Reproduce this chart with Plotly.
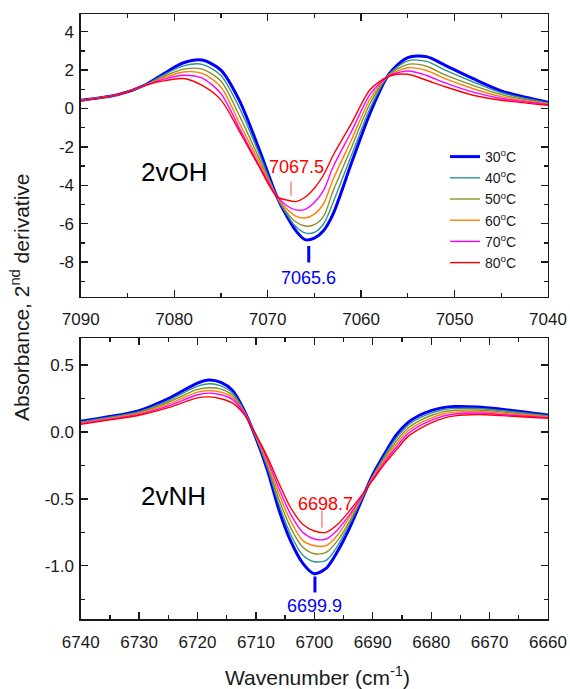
import plotly.graph_objects as go

# ---------------- data ----------------
temps = ["30", "40", "50", "60", "70", "80"]
colors = ["#0000FF", "#2E9494", "#8E8E24", "#FF8000", "#FF00FF", "#FF0000"]
widths = [3.0, 1.4, 1.4, 1.4, 1.4, 1.4]

# 2vOH region
wn_oh = [7090, 7086, 7083, 7081, 7079, 7077, 7075, 7073, 7071, 7069, 7068, 7067,
         7066, 7065, 7064, 7063, 7061, 7059, 7057, 7055, 7053, 7051, 7048, 7045, 7040]
oh_30 = [0.43, 0.72, 1.25, 1.85, 2.38, 2.52, 2.00, 0.40, -2.00, -4.60, -5.56, -6.35,
         -6.83, -6.75, -6.35, -5.50, -2.80, -0.20, 1.80, 2.65, 2.70, 2.25, 1.55, 0.92, 0.32]
oh_40 = [0.43, 0.72, 1.25, 1.78, 2.22, 2.30, 1.72, 0.02, -2.25, -4.62, -5.47, -6.15,
         -6.48, -6.45, -6.00, -4.90, -2.40, 0.05, 1.78, 2.48, 2.45, 2.00, 1.38, 0.82, 0.29]
oh_50 = [0.42, 0.72, 1.24, 1.70, 2.05, 2.05, 1.43, -0.40, -2.50, -4.60, -5.38, -5.90,
         -6.12, -6.05, -5.60, -4.30, -2.00, 0.30, 1.75, 2.30, 2.20, 1.75, 1.20, 0.72, 0.26]
oh_60 = [0.42, 0.72, 1.23, 1.62, 1.90, 1.83, 1.12, -0.78, -2.70, -4.60, -5.21, -5.60,
         -5.70, -5.50, -4.95, -3.70, -1.60, 0.52, 1.72, 2.12, 1.98, 1.55, 1.03, 0.62, 0.23]
oh_70 = [0.41, 0.72, 1.23, 1.54, 1.73, 1.58, 0.78, -1.05, -2.88, -4.58, -5.04, -5.28,
         -5.25, -4.90, -4.25, -3.05, -1.17, 0.76, 1.70, 1.95, 1.72, 1.33, 0.85, 0.52, 0.20]
oh_80 = [0.40, 0.72, 1.22, 1.45, 1.56, 1.20, 0.45, -1.20, -2.95, -4.60, -4.76, -4.85,
         -4.62, -4.15, -3.45, -2.45, -0.75, 1.00, 1.68, 1.78, 1.47, 1.13, 0.69, 0.43, 0.17]

# 2vNH region
wn_nh = [6740, 6735, 6730, 6725, 6720, 6718, 6716, 6714, 6712, 6710, 6708, 6706, 6704,
         6702, 6700, 6698, 6696, 6694, 6692, 6690, 6688, 6686, 6684, 6682, 6680, 6678,
         6676, 6672, 6668, 6664, 6660]
nh_30 = [0.080, 0.115, 0.160, 0.250, 0.365, 0.388, 0.370, 0.310, 0.160, -0.045, -0.29, -0.59, -0.82,
         -0.98, -1.06, -1.02, -0.89, -0.72, -0.52, -0.32, -0.165, -0.024, 0.070, 0.125, 0.160, 0.182,
         0.190, 0.186, 0.170, 0.150, 0.126]
nh_40 = [0.075, 0.110, 0.152, 0.235, 0.342, 0.360, 0.345, 0.292, 0.155, -0.040, -0.27, -0.55, -0.77,
         -0.92, -0.97, -0.96, -0.85, -0.69, -0.51, -0.33, -0.180, -0.047, 0.049, 0.105, 0.141, 0.166,
         0.176, 0.175, 0.160, 0.142, 0.121]
nh_50 = [0.070, 0.105, 0.145, 0.222, 0.318, 0.330, 0.320, 0.275, 0.150, -0.035, -0.25, -0.51, -0.72,
         -0.86, -0.91, -0.90, -0.81, -0.67, -0.50, -0.335, -0.195, -0.070, 0.028, 0.085, 0.123, 0.150,
         0.162, 0.164, 0.150, 0.134, 0.116]
nh_60 = [0.066, 0.100, 0.138, 0.208, 0.298, 0.310, 0.298, 0.258, 0.145, -0.030, -0.23, -0.47, -0.67,
         -0.81, -0.85, -0.85, -0.77, -0.64, -0.50, -0.34, -0.210, -0.092, 0.007, 0.065, 0.104, 0.134,
         0.148, 0.153, 0.141, 0.127, 0.112]
nh_70 = [0.062, 0.095, 0.131, 0.195, 0.278, 0.290, 0.278, 0.242, 0.140, -0.025, -0.21, -0.43, -0.62,
         -0.75, -0.80, -0.80, -0.73, -0.62, -0.49, -0.35, -0.225, -0.114, -0.014, 0.045, 0.086, 0.118,
         0.134, 0.142, 0.131, 0.119, 0.107]
nh_80 = [0.057, 0.090, 0.125, 0.182, 0.255, 0.262, 0.248, 0.215, 0.130, -0.020, -0.19, -0.39, -0.57,
         -0.69, -0.74, -0.75, -0.69, -0.59, -0.48, -0.36, -0.240, -0.136, -0.035, 0.023, 0.068, 0.102,
         0.120, 0.130, 0.122, 0.112, 0.102]

oh_series = [oh_30, oh_40, oh_50, oh_60, oh_70, oh_80]
nh_series = [nh_30, nh_40, nh_50, nh_60, nh_70, nh_80]

# tick labels (hyphen minus as in the reference)
oh_ytickvals = [4, 2, 0, -2, -4, -6, -8]
oh_yticktext = ["4", "2", "0", "-2", "-4", "-6", "-8"]
nh_ytickvals = [0.5, 0.0, -0.5, -1.0]
nh_yticktext = ["0.5", "0.0", "-0.5", "-1.0"]

oh_peak_30, oh_peak_80 = 7065.6, 7067.5
nh_peak_30, nh_peak_80 = 6699.9, 6698.7

FONT = "Liberation Sans, Arial, sans-serif"
INK = "#1a1a1a"
W, H = 570, 689

fig = go.Figure()
for i, t in enumerate(temps):
    fig.add_trace(go.Scatter(
        x=wn_oh, y=oh_series[i], mode="lines", name=f"{t}<sup>o</sup>C",
        line=dict(color=colors[i], width=widths[i], shape="spline", smoothing=0.8),
        xaxis="x", yaxis="y", showlegend=True))
for i, t in enumerate(temps):
    fig.add_trace(go.Scatter(
        x=wn_nh, y=nh_series[i], mode="lines", name=f"{t}<sup>o</sup>C",
        line=dict(color=colors[i], width=widths[i], shape="spline", smoothing=0.8),
        xaxis="x2", yaxis="y2", showlegend=False))

# peak marker lines
fig.add_trace(go.Scatter(x=[oh_peak_80, oh_peak_80], y=[-3.8, -4.55], mode="lines",
                         line=dict(color="#FF7070", width=1.3), xaxis="x", yaxis="y",
                         showlegend=False, hoverinfo="skip"))
fig.add_trace(go.Scatter(x=[oh_peak_30, oh_peak_30], y=[-7.16, -8.02], mode="lines",
                         line=dict(color="#0000FF", width=3), xaxis="x", yaxis="y",
                         showlegend=False, hoverinfo="skip"))
fig.add_trace(go.Scatter(x=[nh_peak_80, nh_peak_80], y=[-0.59, -0.715], mode="lines",
                         line=dict(color="#FF7070", width=1.3), xaxis="x2", yaxis="y2",
                         showlegend=False, hoverinfo="skip"))
fig.add_trace(go.Scatter(x=[nh_peak_30, nh_peak_30], y=[-1.08, -1.20], mode="lines",
                         line=dict(color="#0000FF", width=3), xaxis="x2", yaxis="y2",
                         showlegend=False, hoverinfo="skip"))

axis_common = dict(
    showline=True, linecolor=INK, linewidth=1.3, mirror="ticks",
    ticks="inside", ticklen=7, tickwidth=1.3, tickcolor=INK,
    showgrid=False, zeroline=False, automargin=False,
    tickfont=dict(family=FONT, size=17, color=INK),
)
minor_common = dict(ticks="inside", ticklen=4, tickwidth=1.3, tickcolor=INK, showgrid=False)

xd = [80.7 / W, 548 / W]
fig.update_layout(
    template="none",
    width=W, height=H,
    margin=dict(l=0, r=0, t=0, b=0, autoexpand=False),
    paper_bgcolor="white", plot_bgcolor="white",
    font=dict(family=FONT, color=INK),
    hovermode=False,
    xaxis=dict(domain=xd, range=[7090, 7040], dtick=10, tick0=7040, ticklabelstandoff=7,
               minor=dict(dtick=5, **minor_common), anchor="y", **axis_common),
    yaxis=dict(domain=[1 - 296.7 / H, 1 - 14 / H], range=[-9.8, 4.92], ticklabelstandoff=2,
               tickmode="array", tickvals=oh_ytickvals, ticktext=oh_yticktext,
               minor=dict(dtick=1, tick0=0, **minor_common), anchor="x", **axis_common),
    xaxis2=dict(domain=xd, range=[6740, 6660], dtick=10, tick0=6660, ticklabelstandoff=7,
                minor=dict(dtick=5, **minor_common), anchor="y2", **axis_common),
    yaxis2=dict(domain=[1 - 619.3 / H, 1 - 338.3 / H], range=[-1.4, 0.7], ticklabelstandoff=2,
                tickmode="array", tickvals=nh_ytickvals, ticktext=nh_yticktext,
                minor=dict(dtick=0.25, tick0=0, **minor_common), anchor="x2", **axis_common),
    legend=dict(x=445 / W, y=1 - 141 / H, xanchor="left", yanchor="top",
                bgcolor="rgba(0,0,0,0)", borderwidth=0,
                font=dict(family=FONT, size=14, color=INK),
                tracegroupgap=0, itemwidth=30),
)

ann = [
    dict(text="2vOH", x=7080.0, y=-3.29, xref="x", yref="y", showarrow=False,
         font=dict(family=FONT, size=26, color="black")),
    dict(text="2vNH", x=6724.1, y=-0.48, xref="x2", yref="y2", showarrow=False,
         font=dict(family=FONT, size=26, color="black")),
    dict(text=f"{oh_peak_80}", x=7066.87, y=-3.05, xref="x", yref="y", showarrow=False,
         font=dict(family=FONT, size=18, color="#FF0000")),
    dict(text=f"{oh_peak_30}", x=7065.58, y=-8.85, xref="x", yref="y", showarrow=False,
         font=dict(family=FONT, size=18, color="#0000FF")),
    dict(text=f"{nh_peak_80}", x=6698.05, y=-0.535, xref="x2", yref="y2", showarrow=False,
         font=dict(family=FONT, size=18, color="#FF0000")),
    dict(text=f"{nh_peak_30}", x=6700.05, y=-1.30, xref="x2", yref="y2", showarrow=False,
         font=dict(family=FONT, size=18, color="#0000FF")),
    dict(text="Absorbance, 2<sup>nd</sup> derivative", x=20 / W, y=1 - 297 / H,
         xref="paper", yref="paper", xanchor="center", yanchor="middle",
         showarrow=False, textangle=-90,
         font=dict(family=FONT, size=21, color=INK)),
    dict(text="Wavenumber (cm<sup>-1</sup>)", x=317 / W, y=1 - 676 / H,
         xref="paper", yref="paper", xanchor="center", yanchor="middle", showarrow=False,
         font=dict(family=FONT, size=21, color=INK)),
]
fig.update_layout(annotations=ann)

# remove the browser's default 8px body margin so the 570x689 figure fills the window
fig.write_html("out.html", config={"displayModeBar": False, "staticPlot": True},
               post_script="document.body.style.margin='0px';")
